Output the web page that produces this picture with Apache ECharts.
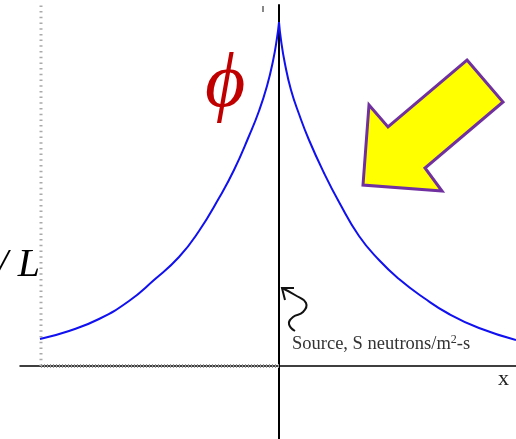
<!DOCTYPE html>
<html>
<head>
    <meta charset="utf-8">
    <title>Neutron flux</title>
    <script src="https://cdn.jsdelivr.net/npm/echarts@6/dist/echarts.min.js"></script>
    <style>
        html, body { margin: 0; padding: 0; background: #fff; }
        #chart1 { width: 516px; height: 439px; }
    </style>
</head>
<body>
    <div id="chart1"></div>
    <script type="text/javascript">
        // flux, x and phi in units of 100 px from the source
        var leftX   = [-2.39, -2.1, -1.8, -1.5, -1.25, -1.0, -0.8, -0.6, -0.45, -0.3, -0.2, -0.12, -0.06, -0.02, 0];
        var leftPhi = [0.27, 0.35, 0.47, 0.65, 0.86, 1.09, 1.35, 1.68, 1.96, 2.3, 2.55, 2.8, 3.05, 3.28, 3.44];
        var rightX   = [0, 0.02, 0.06, 0.12, 0.2, 0.3, 0.45, 0.6, 0.8, 1.0, 1.2, 1.45, 1.7, 2.0, 2.37];
        var rightPhi = [3.44, 3.26, 3.02, 2.76, 2.52, 2.26, 1.93, 1.64, 1.3, 1.06, 0.87, 0.68, 0.52, 0.38, 0.26];

        // dotted guide lines at the left edge
        var edgeX = [-2.38, -2.38];
        var edgeY = [0, 3.61];
        var rulerX = [-2.38, 0];
        var rulerY = [0, 0];

        function pairs(xs, ys) {
            return xs.map(function (v, i) { return [v, ys[i]]; });
        }

        var myChart1 = echarts.init(document.getElementById('chart1'));

        var serif = '"Liberation Serif", "DejaVu Serif", serif';

        myChart1.setOption({
            animation: false,
            grid: { left: 20, right: 0, top: 5, bottom: 0 },
            xAxis: {
                type: 'value',
                min: -2.59,
                max: 2.37,
                axisLine: { onZero: true, lineStyle: { color: '#000', width: 1.5 } },
                axisTick: { show: false },
                axisLabel: { show: false },
                splitLine: { show: false }
            },
            yAxis: {
                type: 'value',
                min: -0.73,
                max: 3.61,
                axisLine: { show: true, onZero: true, lineStyle: { color: '#000', width: 2 } },
                axisTick: { show: false },
                axisLabel: { show: false },
                splitLine: { show: false }
            },
            series: [
                {
                    name: 'edge',
                    type: 'line',
                    data: pairs(edgeX, edgeY),
                    symbol: 'none',
                    silent: true,
                    lineStyle: { color: '#aaa', width: 3, type: [1.5, 4.2] },
                    z: 1
                },
                {
                    name: 'ruler',
                    type: 'line',
                    data: pairs(rulerX, rulerY),
                    symbol: 'none',
                    silent: true,
                    lineStyle: { color: '#999', width: 4, type: [1, 2] },
                    z: 1
                },
                {
                    name: 'left',
                    type: 'line',
                    data: pairs(leftX, leftPhi),
                    smooth: 0.5,
                    symbol: 'none',
                    lineStyle: { color: '#1010f0', width: 2 },
                    z: 3
                },
                {
                    name: 'right',
                    type: 'line',
                    data: pairs(rightX, rightPhi),
                    smooth: 0.5,
                    symbol: 'none',
                    lineStyle: { color: '#1010f0', width: 2 },
                    z: 3
                }
            ],
            graphic: [
                // phi label
                {
                    type: 'text', left: 205, top: 46,
                    style: { text: 'ϕ', fill: '#c00000', font: 'italic 78px ' + serif }
                },
                // clipped left label
                {
                    type: 'text', right: 476, top: 245,
                    style: { text: '/ L', fill: '#000', font: 'italic 40px ' + serif, textAlign: 'right' }
                },
                // small mark near top
                {
                    type: 'rect', shape: { x: 262, y: 6, width: 2, height: 6 },
                    style: { fill: '#888' }
                },
                {
                    type: 'text', left: 498, top: 368,
                    style: { text: 'x', fill: '#222', font: '22px ' + serif }
                },
                {
                    type: 'text', left: 292, top: 334,
                    style: {
                        text: '{a|Source, S neutrons/m}{s|2}{a|-s}',
                        rich: {
                            a: { fill: '#333', font: '18.5px ' + serif },
                            s: { fill: '#333', font: '12px ' + serif, verticalAlign: 'top', padding: [0, 0, 8, 0] }
                        }
                    }
                },
                // curly pointer to the source
                {
                    type: 'polyline',
                    shape: { points: [[282, 288], [295, 295], [306, 303], [303, 312], [293, 317], [289, 324], [295, 331]], smooth: 0.5 },
                    style: { stroke: '#111', lineWidth: 2, fill: null }
                },
                {
                    type: 'polyline',
                    shape: { points: [[285, 300], [282, 288], [294, 288]] },
                    style: { stroke: '#111', lineWidth: 2, fill: null }
                },
                // yellow arrow
                {
                    type: 'polygon',
                    shape: { points: [[467, 60], [503, 102], [425, 168], [442, 191], [363, 185], [369, 105], [388, 127]] },
                    style: { fill: '#ffff00', stroke: '#7030a0', lineWidth: 3 },
                    z: 10
                }
            ]
        });
    </script>
</body>
</html>
